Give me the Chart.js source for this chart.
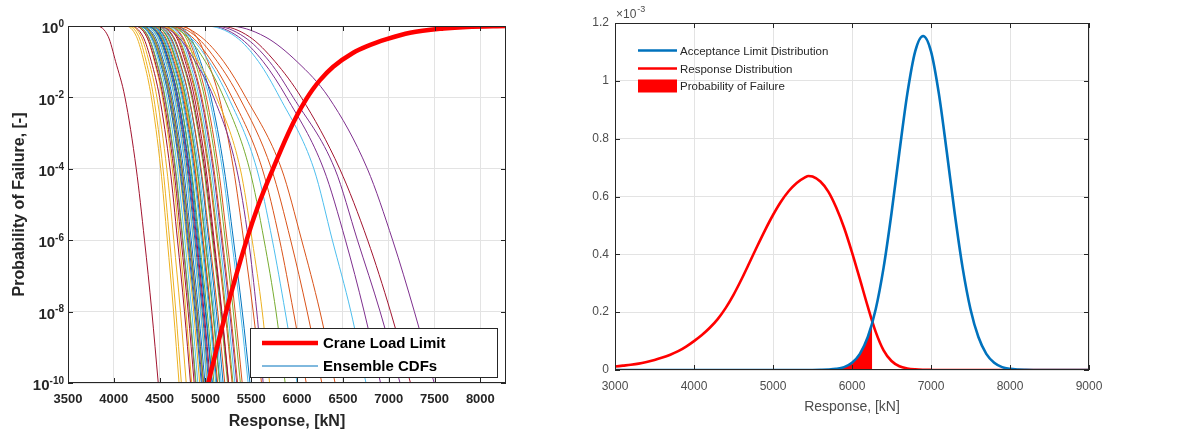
<!DOCTYPE html>
<html>
<head>
<meta charset="utf-8">
<title>Crane load limit vs ensemble CDFs</title>
<script src="https://cdn.jsdelivr.net/npm/chart.js@4.4.1/dist/chart.umd.min.js"></script>
<style>
  html, body { margin: 0; padding: 0; background: #fff; }
  #wrap { position: relative; width: 1191px; height: 434px; }
  canvas { position: absolute; top: 0; }
  #left { left: 0; }
  #right { left: 560px; }
</style>
</head>
<body>
<div id="wrap">
  <canvas id="left" width="540" height="434"></canvas>
  <canvas id="right" width="631" height="434"></canvas>
</div>
<script>
// ---------- left panel: exceedance curves (x read at fixed probability levels) ----------
const X_START = 3500;
const P_LEVELS = [1, 0.5, 0.1, 1e-2, 1e-4, 1e-6, 1e-8, 1e-10];
const ENSEMBLE_X = [
  [4310, 4450, 4545, 4640, 4760, 4845, 4925, 4995],
  [4600, 4850, 5070, 5290, 5620, 5810, 5960, 6100],
  [4129, 4248, 4329, 4410, 4512, 4584, 4652, 4712],
  [5250, 5650, 6000, 6345, 6767, 7043, 7280, 7496],
  [4580, 4800, 5000, 5200, 5480, 5640, 5770, 5870],
  [5000, 5330, 5580, 5810, 6183, 6385, 6587, 6752],
  [3810, 3940, 4020, 4122, 4245, 4335, 4415, 4485],
  [4270, 4410, 4505, 4600, 4720, 4805, 4885, 4955],
  [4650, 4900, 5130, 5370, 5720, 5930, 6110, 6270],
  [4154, 4273, 4354, 4435, 4537, 4609, 4677, 4737],
  [5050, 5360, 5630, 5887, 6289, 6528, 6732, 6911],
  [4246, 4379, 4470, 4560, 4674, 4755, 4831, 4897],
  [4600, 4830, 5040, 5250, 5560, 5730, 5870, 6000],
  [5150, 5480, 5760, 6046, 6465, 6770, 7020, 7238],
  [4350, 4490, 4585, 4680, 4800, 4885, 4965, 5035],
  [4700, 4950, 5200, 5440, 5830, 6050, 6250, 6415],
  [4173, 4299, 4384, 4470, 4578, 4655, 4727, 4790],
  [5100, 5420, 5700, 5958, 6412, 6659, 6906, 7124],
  [4290, 4430, 4525, 4620, 4740, 4825, 4905, 4975],
  [4266, 4399, 4490, 4580, 4694, 4775, 4851, 4917],
  [4186, 4319, 4410, 4500, 4614, 4695, 4771, 4837],
  [4353, 4500, 4600, 4700, 4826, 4915, 4999, 5073],
  [4413, 4560, 4660, 4760, 4886, 4975, 5059, 5133],
  [4500, 4720, 4920, 5120, 5380, 5510, 5620, 5700],
  [4480, 4700, 4890, 5090, 5340, 5470, 5560, 5630],
  [4373, 4520, 4620, 4720, 4846, 4935, 5019, 5093],
  [4330, 4470, 4565, 4660, 4780, 4865, 4945, 5015],
  [4226, 4359, 4450, 4540, 4654, 4735, 4811, 4877],
  [4390, 4530, 4625, 4720, 4840, 4925, 5005, 5075],
  [4457, 4611, 4715, 4820, 4952, 5046, 5134, 5211],
  [4233, 4359, 4444, 4530, 4638, 4715, 4787, 4850],
  [4241, 4374, 4465, 4555, 4669, 4750, 4826, 4892],
  [4433, 4580, 4680, 4780, 4906, 4995, 5079, 5153],
  [4393, 4540, 4640, 4740, 4866, 4955, 5039, 5113],
  [4497, 4651, 4755, 4860, 4992, 5086, 5174, 5251],
  [4403, 4550, 4650, 4750, 4876, 4965, 5049, 5123],
  [4537, 4691, 4795, 4900, 5032, 5126, 5214, 5291],
  [4286, 4419, 4510, 4600, 4714, 4795, 4871, 4937],
  [4280, 4420, 4515, 4610, 4730, 4815, 4895, 4965],
  [4487, 4641, 4745, 4850, 4982, 5076, 5164, 5241],
  [4453, 4600, 4700, 4800, 4926, 5015, 5099, 5173],
  [4370, 4510, 4605, 4700, 4820, 4905, 4985, 5055],
  [4438, 4585, 4685, 4785, 4911, 5000, 5084, 5158],
  [4597, 4751, 4855, 4960, 5092, 5186, 5274, 5351],
  [4335, 4475, 4570, 4665, 4785, 4870, 4950, 5020],
  [4587, 4741, 4845, 4950, 5082, 5176, 5264, 5341],
  [4547, 4701, 4805, 4910, 5042, 5136, 5224, 5301],
  [4567, 4721, 4825, 4930, 5062, 5156, 5244, 5321],
  [4295, 4435, 4530, 4625, 4745, 4830, 4910, 4980],
  [4473, 4620, 4720, 4820, 4946, 5035, 5119, 5193],
  [4647, 4801, 4905, 5010, 5142, 5236, 5324, 5401],
  [4440, 4580, 4675, 4770, 4890, 4975, 5055, 5125],
  [4360, 4500, 4595, 4690, 4810, 4895, 4975, 5045],
  [4627, 4781, 4885, 4990, 5122, 5216, 5304, 5381],
  [4644, 4812, 4926, 5040, 5184, 5286, 5382, 5466],
  [4533, 4680, 4780, 4880, 5006, 5095, 5179, 5253],
  [4664, 4832, 4946, 5060, 5204, 5306, 5402, 5486],
  [4721, 4903, 5026, 5150, 5306, 5417, 5521, 5612]
];
const CRANE_X = [5030, 5226, 5449, 5580, 5737, 5905, 6000, 6095, 6170, 6248, 6394, 6613, 6759, 6978, 7234, 7599, 7854, 8280];
const CRANE_P = [1e-10, 1e-8, 1e-6, 1e-5, 1e-4, 1e-3, 0.00316, 0.0085, 0.0166, 0.030, 0.072, 0.178, 0.269, 0.427, 0.646, 0.851, 0.944, 1];
const LEFT_X_TICKS = [3500, 4000, 4500, 5000, 5500, 6000, 6500, 7000, 7500, 8000];
const LEFT_Y_EXP = [0, -2, -4, -6, -8, -10];

// ---------- right panel: densities (units of 1e-3) ----------
const R_X = [3000, 3100, 3200, 3300, 3400, 3500, 3600, 3700, 3800, 3900,
  4000, 4100, 4200, 4300, 4400, 4500, 4600, 4700, 4800, 4900,
  5000, 5100, 5200, 5300, 5400, 5450, 5500, 5600, 5700, 5800, 5900,
  6000, 6100, 6200, 6300, 6400, 6500, 6600, 6700, 6800, 6900,
  7000, 7100, 7200, 7300, 7400, 7500, 7600, 7700, 7800, 7900,
  8000, 8100, 8200, 8300, 8400, 8700, 9000];
const ACCEPT_PDF = [0, 0, 0, 0, 0, 0, 0, 0, 0, 0,
  0, 0, 0, 0, 0, 0, 0, 0, 0, 0,
  0, 0, 0, 0, 0, 0, 0, 0.0004, 0.0013, 0.0038, 0.010,
  0.025, 0.056, 0.114, 0.210, 0.354, 0.542, 0.754, 0.955, 1.102, 1.155,
  1.102, 0.955, 0.754, 0.542, 0.354, 0.210, 0.114, 0.056, 0.025, 0.010,
  0.0038, 0.0013, 0.0004, 0, 0, 0, 0];
const RESPONSE_PDF = [0.012, 0.015, 0.018, 0.022, 0.028, 0.035, 0.043, 0.053, 0.065, 0.081,
  0.100, 0.121, 0.146, 0.176, 0.214, 0.260, 0.313, 0.370, 0.428, 0.484,
  0.536, 0.582, 0.619, 0.647, 0.665, 0.671, 0.669, 0.652, 0.617, 0.562, 0.492,
  0.407, 0.314, 0.219, 0.132, 0.068, 0.031, 0.013, 0.0055, 0.0022, 0.0008,
  0.0003, 0, 0, 0, 0, 0, 0, 0, 0, 0,
  0, 0, 0, 0, 0, 0, 0];
const FAIL_X = [5600, 5700, 5800, 5900, 6000, 6100, 6200, 6256];
const FAIL_PDF = [0.0004, 0.0013, 0.0038, 0.010, 0.025, 0.056, 0.114, 0.168];
const RIGHT_X_TICKS = [3000, 4000, 5000, 6000, 7000, 8000, 9000];
const RIGHT_Y_TICKS = [0, 0.2, 0.4, 0.6, 0.8, 1, 1.2];

const MATLAB_LINES = ['#0072BD', '#D95319', '#EDB120', '#7E2F8E', '#77AC30', '#4DBEEE', '#A2142F'];
const FONT = '"Liberation Sans", Arial, Helvetica, sans-serif';
const AXIS_DARK = '#262626';
const GRID = '#e3e3e3';

// frame round the plot area with short ticks pointing inwards (MATLAB style)
function drawFrame(chart, xTicks, yTicks, len) {
  const { ctx, chartArea: a, scales: { x, y } } = chart;
  ctx.save();
  ctx.strokeStyle = AXIS_DARK;
  ctx.lineWidth = 1;
  ctx.strokeRect(a.left + 0.5, a.top + 0.5, a.right - a.left - 1, a.bottom - a.top - 1);
  ctx.beginPath();
  xTicks.forEach(v => {
    const px = Math.round(x.getPixelForValue(v)) + 0.5;
    ctx.moveTo(px, a.bottom); ctx.lineTo(px, a.bottom - len);
    ctx.moveTo(px, a.top); ctx.lineTo(px, a.top + len);
  });
  yTicks.forEach(v => {
    const py = Math.round(y.getPixelForValue(v)) + 0.5;
    ctx.moveTo(a.left, py); ctx.lineTo(a.left + len, py);
    ctx.moveTo(a.right, py); ctx.lineTo(a.right - len, py);
  });
  ctx.stroke();
  ctx.restore();
}

const leftDecor = {
  id: 'leftDecor',
  afterDatasetsDraw(chart) {
    const { ctx, chartArea: a, scales: { y } } = chart;
    drawFrame(chart, LEFT_X_TICKS, LEFT_Y_EXP.map(e => Math.pow(10, e)), 5);

    // 10^k labels with raised exponents
    ctx.save();
    ctx.fillStyle = AXIS_DARK;
    ctx.textBaseline = 'middle';
    ctx.textAlign = 'right';
    LEFT_Y_EXP.forEach(e => {
      const py = y.getPixelForValue(Math.pow(10, e));
      const sup = String(e);
      ctx.font = 'bold 10px ' + FONT;
      const sw = ctx.measureText(sup).width;
      ctx.fillText(sup, a.left - 4, py - 2);
      ctx.font = 'bold 15px ' + FONT;
      ctx.fillText('10', a.left - 4 - sw, py + 3);
    });

    // legend box, lower right
    const bx = a.right - 256, by = a.bottom - 55, bw = 248, bh = 50;
    ctx.fillStyle = '#fff';
    ctx.fillRect(bx, by, bw, bh);
    ctx.strokeStyle = AXIS_DARK;
    ctx.lineWidth = 1;
    ctx.strokeRect(bx + 0.5, by + 0.5, bw - 1, bh - 1);
    [0, 1].forEach((di, r) => {
      const ds = chart.data.datasets[di];
      const ry = by + 15 + r * 23;
      ctx.strokeStyle = ds.borderColor;
      ctx.lineWidth = ds.borderWidth;
      ctx.beginPath();
      ctx.moveTo(bx + 12, ry); ctx.lineTo(bx + 68, ry);
      ctx.stroke();
      ctx.fillStyle = '#000';
      ctx.textAlign = 'left';
      ctx.font = 'bold 15px ' + FONT;
      ctx.fillText(ds.label, bx + 73, ry + 1);
    });
    ctx.restore();
  }
};

const rightDecor = {
  id: 'rightDecor',
  afterDatasetsDraw(chart) {
    const { ctx, chartArea: a } = chart;
    drawFrame(chart, RIGHT_X_TICKS, RIGHT_Y_TICKS, 5);
    ctx.save();

    // exponent note above the y axis
    ctx.fillStyle = '#4d4d4d';
    ctx.textBaseline = 'middle';
    ctx.textAlign = 'left';
    ctx.font = '12px ' + FONT;
    ctx.fillText('\u00d710', a.left + 1, a.top - 8);
    const w = ctx.measureText('\u00d710').width;
    ctx.font = '9px ' + FONT;
    ctx.fillText('-3', a.left + 2 + w, a.top - 13);

    // legend, upper left inside the axes
    const lx = a.left + 23, lw = 39;
    const rowY = [a.top + 27.5, a.top + 45.5, a.top + 63];
    chart.data.datasets.forEach((ds, i) => {
      const ry = rowY[i];
      if (ds.fill) {
        ctx.fillStyle = ds.backgroundColor;
        ctx.fillRect(lx, ry - 6.5, lw, 13);
      } else {
        ctx.strokeStyle = ds.borderColor;
        ctx.lineWidth = ds.borderWidth;
        ctx.beginPath();
        ctx.moveTo(lx, ry); ctx.lineTo(lx + lw, ry);
        ctx.stroke();
      }
      ctx.fillStyle = '#262626';
      ctx.font = '11.5px ' + FONT;
      ctx.fillText(ds.label, lx + lw + 3, ry + 1);
    });
    ctx.restore();
  }
};

// ---------- left chart ----------
const leftDatasets = [
  {
    label: 'Crane Load Limit',
    data: CRANE_X.map((x, i) => ({ x, y: CRANE_P[i] })),
    borderColor: '#ff0000',
    borderWidth: 4.5
  },
  ...ENSEMBLE_X.map((xs, i) => ({
    label: i === 0 ? 'Ensemble CDFs' : 'Ensemble CDF ' + (i + 1),
    data: [{ x: X_START, y: 1 }, ...xs.map((x, j) => ({ x, y: P_LEVELS[j] }))],
    borderColor: MATLAB_LINES[i % MATLAB_LINES.length],
    borderWidth: 1
  }))
];

new Chart(document.getElementById('left'), {
  type: 'line',
  data: { datasets: leftDatasets },
  options: {
    responsive: false,
    animation: false,
    devicePixelRatio: 1,
    layout: { padding: { top: 26, right: 34, left: 0, bottom: 0 } },
    elements: {
      point: { radius: 0 },
      line: { cubicInterpolationMode: 'monotone', fill: false }
    },
    plugins: { legend: { display: false }, tooltip: { enabled: false } },
    scales: {
      x: {
        type: 'linear',
        min: 3500,
        max: 8280,
        afterBuildTicks: s => { s.ticks = LEFT_X_TICKS.map(v => ({ value: v })); },
        afterFit: s => { s.height = 51; },
        grid: { color: GRID, drawTicks: false },
        border: { display: false },
        ticks: {
          autoSkip: false, maxRotation: 0, padding: 9,
          color: AXIS_DARK,
          font: { family: FONT, size: 13, weight: 'bold' },
          callback: v => String(v)
        },
        title: {
          display: true, text: 'Response, [kN]', color: AXIS_DARK,
          font: { family: FONT, size: 16, weight: 'bold' },
          padding: { top: 0, bottom: 3 }
        }
      },
      y: {
        type: 'logarithmic',
        min: 1e-10,
        max: 1,
        afterBuildTicks: s => { s.ticks = LEFT_Y_EXP.map(e => ({ value: Math.pow(10, e) })); },
        afterFit: s => { s.width = 68; },
        grid: { color: GRID, drawTicks: false },
        border: { display: false },
        ticks: { display: false },
        title: {
          display: true, text: 'Probability of Failure, [-]', color: AXIS_DARK,
          font: { family: FONT, size: 16, weight: 'bold' },
          padding: { top: 9.5, bottom: 0 }
        }
      }
    }
  },
  plugins: [leftDecor]
});

// ---------- right chart ----------
new Chart(document.getElementById('right'), {
  type: 'line',
  data: {
    datasets: [
      {
        label: 'Acceptance Limit Distribution',
        data: R_X.map((x, i) => ({ x, y: ACCEPT_PDF[i] })),
        borderColor: '#0072BD',
        borderWidth: 2.6
      },
      {
        label: 'Response Distribution',
        data: R_X.map((x, i) => ({ x, y: RESPONSE_PDF[i] })),
        borderColor: '#ff0000',
        borderWidth: 2.6
      },
      {
        label: 'Probability of Failure',
        data: FAIL_X.map((x, i) => ({ x, y: FAIL_PDF[i] })),
        borderColor: '#ff0000',
        borderWidth: 0,
        backgroundColor: '#ff0000',
        fill: 'origin'
      }
    ]
  },
  options: {
    responsive: false,
    animation: false,
    devicePixelRatio: 1,
    layout: { padding: { top: 23, right: 102, left: 0, bottom: 0 } },
    elements: {
      point: { radius: 0 },
      line: { cubicInterpolationMode: 'monotone' }
    },
    plugins: { legend: { display: false }, tooltip: { enabled: false } },
    scales: {
      x: {
        type: 'linear',
        min: 3000,
        max: 9000,
        afterBuildTicks: s => { s.ticks = RIGHT_X_TICKS.map(v => ({ value: v })); },
        afterFit: s => { s.height = 64; },
        grid: { color: GRID, drawTicks: false },
        border: { display: false },
        ticks: {
          autoSkip: false, maxRotation: 0, padding: 9,
          color: '#4d4d4d',
          font: { family: FONT, size: 12 },
          callback: v => String(v)
        },
        title: {
          display: true, text: 'Response, [kN]', color: '#4d4d4d',
          font: { family: FONT, size: 14 },
          padding: { top: 0, bottom: 18.5 }
        }
      },
      y: {
        type: 'linear',
        min: 0,
        max: 1.2,
        afterBuildTicks: s => { s.ticks = RIGHT_Y_TICKS.map(v => ({ value: v })); },
        afterFit: s => { s.width = 55; },
        grid: { color: GRID, drawTicks: false },
        border: { display: false },
        ticks: {
          padding: 6,
          color: '#4d4d4d',
          font: { family: FONT, size: 12 },
          callback: v => String(v)
        }
      }
    }
  },
  plugins: [rightDecor]
});
</script>
</body>
</html>
